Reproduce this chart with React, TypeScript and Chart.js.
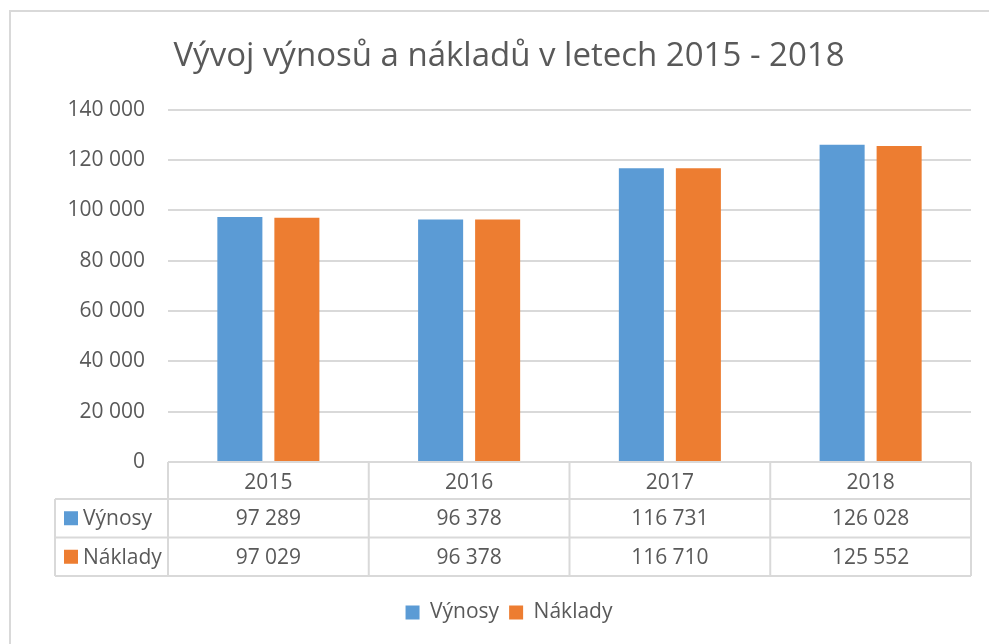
import React, { useEffect, useRef } from "react";
import { Chart, registerables } from "chart.js";

Chart.register(...registerables);

const categories = ["2015", "2016", "2017", "2018"];
const vynosy = [97289, 96378, 116731, 126028];
const naklady = [97029, 96378, 116710, 125552];
const seriesNames = ["Výnosy", "Náklady"];
const seriesColors = ["#5b9bd5", "#ed7d31"];
const yMin = 0;
const yMax = 140000;
const yStep = 20000;
const titleText = "Vývoj výnosů a nákladů v letech 2015 - 2018";

const FONT = "'Open Sans', sans-serif";
const TEXT = "#595959";
const LINE = "#d9d9d9";

const fmt = (n: number) => String(n).replace(/\B(?=(\d{3})+(?!\d))/g, " ");

const tablePlugin = {
  id: "dataTable",
  beforeDraw(chart: any) {
    const ctx = chart.ctx;
    ctx.save();
    ctx.fillStyle = "#ffffff";
    ctx.fillRect(0, 0, chart.width, chart.height);
    ctx.strokeStyle = LINE;
    ctx.lineWidth = 2;
    ctx.beginPath();
    ctx.moveTo(10, chart.height);
    ctx.lineTo(10, 11);
    ctx.lineTo(chart.width, 11);
    ctx.stroke();
    ctx.restore();
  },
  afterDraw(chart: any) {
    const ctx = chart.ctx;
    const xs = chart.scales.x;
    const area = chart.chartArea;
    const n = categories.length;
    const cw = (area.right - area.left) / n;
    const top = area.bottom;
    const hb = top + 37;
    const r1 = hb + 38.5;
    const r2 = r1 + 38.5;
    const leftCol = 55;
    ctx.save();
    ctx.strokeStyle = LINE;
    ctx.lineWidth = 2;
    ctx.beginPath();
    ctx.moveTo(area.left, top);
    ctx.lineTo(area.right, top);
    [hb, r1, r2].forEach((y) => {
      ctx.moveTo(leftCol, y);
      ctx.lineTo(area.right, y);
    });
    ctx.moveTo(leftCol, hb);
    ctx.lineTo(leftCol, r2);
    for (let i = 0; i <= n; i++) {
      const x = i < n ? xs.getPixelForValue(i) - cw / 2 : xs.getPixelForValue(n - 1) + cw / 2;
      ctx.moveTo(x, top);
      ctx.lineTo(x, r2);
    }
    ctx.stroke();

    const rows = [
      { name: seriesNames[0], color: seriesColors[0], values: vynosy, y0: hb, y1: r1 },
      { name: seriesNames[1], color: seriesColors[1], values: naklady, y0: r1, y1: r2 },
    ];
    ctx.font = `21px ${FONT}`;
    ctx.textBaseline = "middle";
    rows.forEach((r) => {
      const cy = (r.y0 + r.y1) / 2;
      ctx.fillStyle = r.color;
      ctx.fillRect(64, cy - 7, 14, 14);
      ctx.fillStyle = TEXT;
      ctx.textAlign = "left";
      ctx.fillText(r.name, 83, cy + 1);
      ctx.textAlign = "center";
      r.values.forEach((v, i) => {
        ctx.fillText(fmt(v), xs.getPixelForValue(i), cy + 1);
      });
    });
    ctx.restore();
  },
};

export default function App() {
  const ref = useRef<HTMLCanvasElement | null>(null);
  useEffect(() => {
    if (!ref.current) return;
    const chart = new Chart(ref.current, {
      type: "bar",
      data: {
        labels: categories,
        datasets: [
          {
            label: seriesNames[0],
            data: vynosy,
            backgroundColor: seriesColors[0],
            borderWidth: 0,
            categoryPercentage: 0.568,
            barPercentage: 0.79,
          },
          {
            label: seriesNames[1],
            data: naklady,
            backgroundColor: seriesColors[1],
            borderWidth: 0,
            categoryPercentage: 0.568,
            barPercentage: 0.79,
          },
        ],
      },
      options: {
        responsive: false,
        animation: false,
        layout: { padding: { left: 47, right: 18, top: 12, bottom: 11 } },
        plugins: {
          tooltip: { enabled: false },
          title: {
            display: true,
            text: titleText,
            color: TEXT,
            font: { family: FONT, size: 33, weight: "normal" },
            padding: { top: 25, bottom: 33 },
          },
          legend: {
            position: "bottom",
            labels: {
              color: TEXT,
              font: { family: FONT, size: 21 },
              boxWidth: 14,
              boxHeight: 14,
              padding: 10,
            },
          },
        },
        scales: {
          x: {
            grid: { display: false },
            border: { display: false },
            ticks: {
              color: TEXT,
              font: { family: FONT, size: 21 },
              padding: 0,
              maxRotation: 0,
            },
            afterFit(scale: any) {
              scale.height = 130;
            },
          },
          y: {
            min: yMin,
            max: yMax,
            grid: { color: LINE, lineWidth: 2, drawTicks: false },
            border: { display: false },
            ticks: {
              stepSize: yStep,
              color: TEXT,
              font: { family: FONT, size: 21 },
              padding: 23,
              callback: (v: any) => fmt(Number(v)),
            },
            afterFit(scale: any) {
              scale.width = 121;
            },
          },
        },
      },
      plugins: [tablePlugin],
    });
    return () => chart.destroy();
  }, []);
  return (
    <div style={{ position: "absolute", left: 0, top: 0, width: 989, height: 644 }}>
      <canvas ref={ref} width={989} height={644} style={{ display: "block" }} />
    </div>
  );
}
